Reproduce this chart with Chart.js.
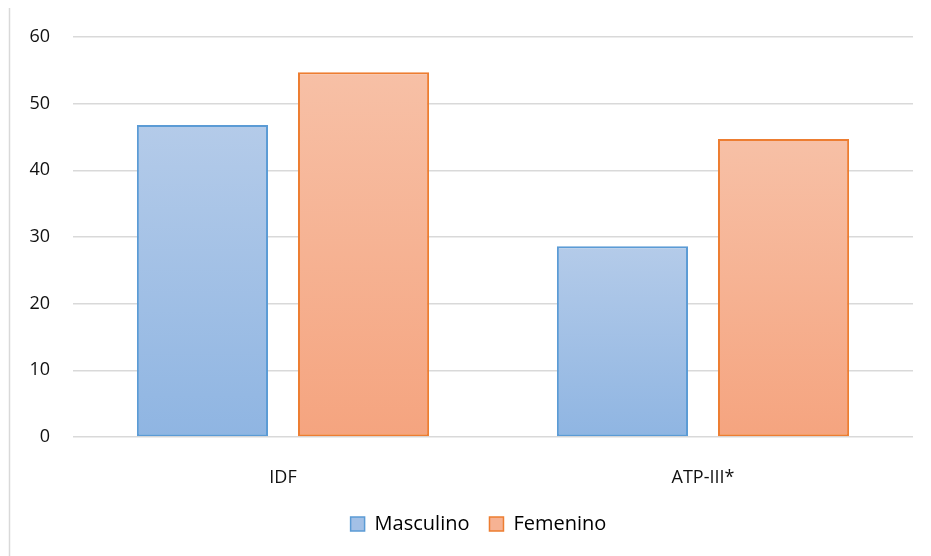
<!DOCTYPE html>
<html>
<head>
<meta charset="utf-8">
<script src="https://cdn.jsdelivr.net/npm/chart.js@4"></script>
<style>
html,body{margin:0;padding:0;background:#fff;}
#wrap{width:931px;height:556px;position:relative;}
</style>
</head>
<body>
<div id="wrap"><canvas id="c" width="931" height="556"></canvas></div>
<script>
const categories = ["IDF", "ATP-III*"];
const masculino = [46.8, 28.6];
const femenino = [54.7, 44.7];
const yTicks = [0, 10, 20, 30, 40, 50, 60];

const FONT = "'Open Sans', Lato, sans-serif";

function barGradient(top, bottom) {
  return function (ctx) {
    const chart = ctx.chart;
    const ys = chart.scales && chart.scales.y;
    if (!ys || ctx.type !== 'data' || ctx.raw == null) return bottom;
    const y0 = ys.getPixelForValue(ctx.raw);
    const y1 = ys.getPixelForValue(0);
    if (!isFinite(y0) || !isFinite(y1) || y0 === y1) return bottom;
    const g = chart.ctx.createLinearGradient(0, y0, 0, y1);
    g.addColorStop(0, top);
    g.addColorStop(1, bottom);
    return g;
  };
}

const framePlugin = {
  id: 'frame',
  afterLayout(chart) {
    if (chart.legend) {
      chart.legend.left += 22;
      chart.legend.right += 22;
    }
  },
  beforeDraw(chart) {
    const c = chart.ctx;
    c.save();
    c.strokeStyle = '#d9d9d9';
    c.lineWidth = 1.5;
    c.beginPath();
    c.moveTo(9.5, 8);
    c.lineTo(9.5, 556);
    c.stroke();
    c.restore();
  }
};

new Chart(document.getElementById('c'), {
  type: 'bar',
  data: {
    labels: categories,
    datasets: [
      {
        label: 'Masculino',
        data: masculino,
        backgroundColor: barGradient('#b4cbe9', '#8fb5e2'),
        borderColor: '#5b9bd5',
        borderWidth: 2,
        borderSkipped: false
      },
      {
        label: 'Femenino',
        data: femenino,
        backgroundColor: barGradient('#f7c0a6', '#f5a47f'),
        borderColor: '#ed7d31',
        borderWidth: 2,
        borderSkipped: false
      }
    ]
  },
  options: {
    responsive: false,
    animation: false,
    devicePixelRatio: 1,
    categoryPercentage: 0.767,
    barPercentage: 0.814,
    layout: { padding: { left: 0, right: 18, top: 37, bottom: 12 } },
    plugins: {
      tooltip: { enabled: false },
      legend: {
        position: 'bottom',
        labels: {
          boxWidth: 14,
          boxHeight: 14,
          padding: 20,
          color: '#111',
          font: { family: FONT, size: 20 },
          generateLabels(chart) {
            return [
              { text: 'Masculino', fillStyle: '#a3c0e6', strokeStyle: '#5b9bd5', lineWidth: 1.5, datasetIndex: 0 },
              { text: 'Femenino', fillStyle: '#f6b293', strokeStyle: '#ed7d31', lineWidth: 1.5, datasetIndex: 1 }
            ];
          }
        }
      }
    },
    scales: {
      x: {
        afterFit(scale) { scale.height = 57; },
        grid: { display: false },
        border: { display: false },
        ticks: { color: '#111', font: { family: FONT, size: 18 }, padding: 22 }
      },
      y: {
        min: 0,
        max: 60,
        afterFit(scale) { scale.width = 73; },
        afterBuildTicks(scale) { scale.ticks = yTicks.map(v => ({ value: v })); },
        grid: { color: '#d9d9d9', lineWidth: 1.5, drawTicks: false },
        border: { display: false },
        ticks: { color: '#111', font: { family: FONT, size: 18 }, padding: 23 }
      }
    }
  },
  plugins: [framePlugin]
});
</script>
</body>
</html>
